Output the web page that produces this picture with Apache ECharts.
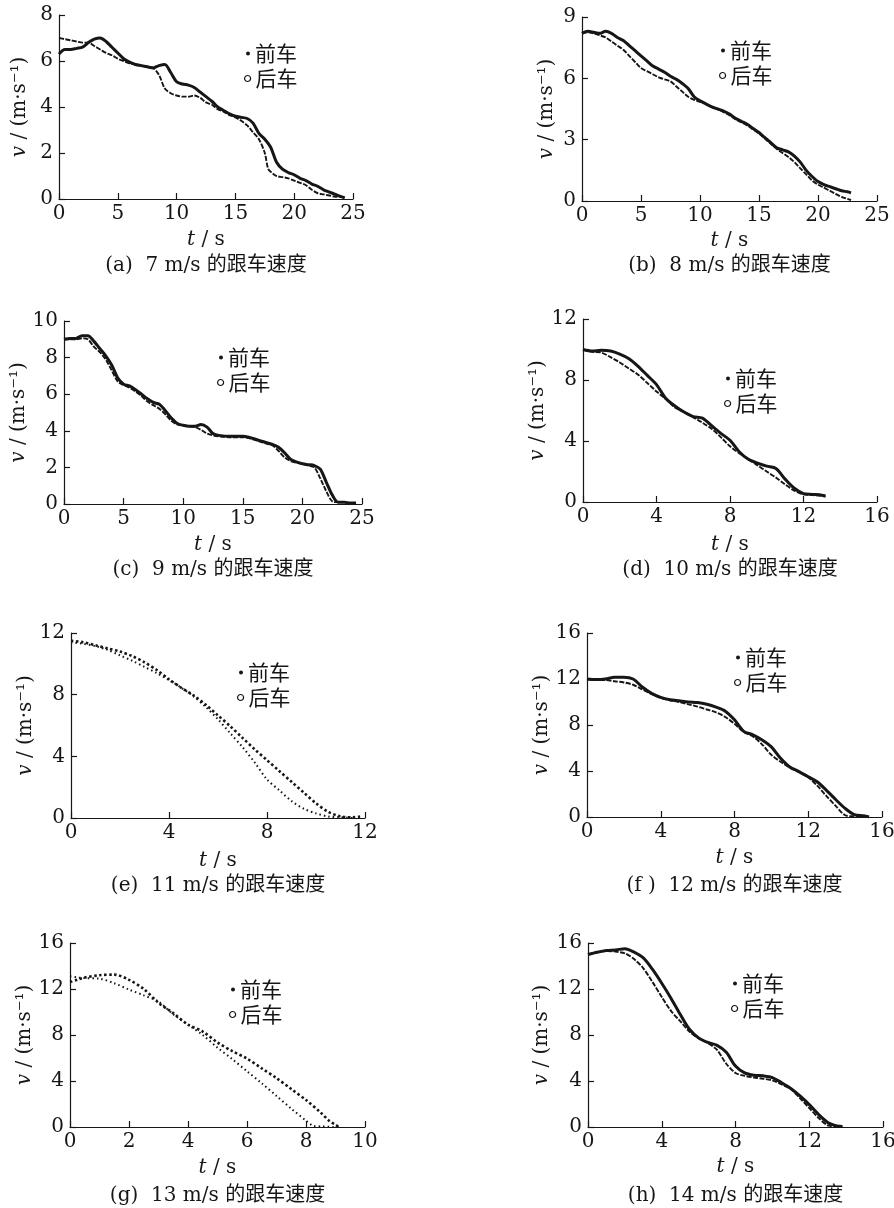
<!DOCTYPE html>
<html>
<head>
<meta charset="utf-8">
<script src="https://cdn.jsdelivr.net/npm/echarts@6/dist/echarts.min.js"></script>
<style>
html,body{margin:0;padding:0;background:#fff;}
#c{width:894px;height:1208px;}
</style>
</head>
<body>
<div id="c"></div>
<script>
// ---------------- DATA (t in s, v in m/s) ----------------
const seriesNames = ['前车', '后车'];
const captions = ['(a)  7 m/s 的跟车速度', '(b)  8 m/s 的跟车速度', '(c)  9 m/s 的跟车速度', '(d)  10 m/s 的跟车速度',
                  '(e)  11 m/s 的跟车速度', '(f )  12 m/s 的跟车速度', '(g)  13 m/s 的跟车速度', '(h)  14 m/s 的跟车速度'];
const xMax  = [25, 25, 25, 16, 12, 16, 10, 16];
const xStep = [5, 5, 5, 4, 4, 4, 2, 4];
const yMax  = [8, 9, 10, 12, 12, 16, 16, 16];
const yStep = [2, 3, 2, 4, 4, 4, 4, 4];

const aLead = [[0,7.0],[0.5,6.95],[1,6.9],[1.5,6.85],[2,6.8],[2.5,6.8],[3,6.65],[3.5,6.5],[4,6.35],[4.5,6.25],[5,6.1],[5.5,6.0],[6,5.9],[6.5,5.85],[7,5.8],[7.5,5.75],[8,5.7],[8.5,5.4],[9,4.8],[9.5,4.6],[10,4.5],[10.5,4.45],[11,4.45],[11.5,4.5],[12,4.4],[12.5,4.2],[13,4.1],[13.5,3.9],[14,3.8],[14.5,3.65],[15,3.55],[15.5,3.4],[16,3.2],[16.5,2.9],[17,2.6],[17.5,2.0],[17.8,1.3],[18.2,1.1],[18.5,1.0],[19,0.95],[19.5,0.9],[20,0.8],[20.5,0.7],[21,0.6],[21.5,0.4],[22,0.25],[22.5,0.2],[23,0.15],[23.5,0.1],[24,0.1],[24.3,0.05]];
const aFollow = [[0,6.3],[0.5,6.5],[1,6.5],[1.5,6.55],[2,6.6],[2.5,6.8],[3,6.95],[3.5,7.0],[4,6.85],[4.5,6.6],[5,6.35],[5.5,6.1],[6,5.95],[6.5,5.85],[7,5.8],[7.5,5.75],[8,5.7],[8.5,5.8],[9,5.85],[9.5,5.5],[10,5.1],[10.5,5.0],[11,4.95],[11.5,4.85],[12,4.65],[12.5,4.45],[13,4.25],[13.5,4.0],[14,3.85],[14.5,3.7],[15,3.6],[15.5,3.55],[16,3.5],[16.5,3.3],[17,2.85],[17.5,2.6],[18,2.25],[18.5,1.6],[19,1.3],[19.5,1.15],[20,1.05],[20.5,0.9],[21,0.8],[21.5,0.65],[22,0.55],[22.5,0.4],[23,0.3],[23.5,0.2],[24,0.1],[24.3,0.05]];

const bLead = [[0,8.2],[0.5,8.25],[1,8.2],[1.5,8.1],[2,8.0],[2.5,7.8],[3,7.6],[3.5,7.4],[4,7.1],[4.5,6.8],[5,6.5],[5.5,6.35],[6,6.2],[6.5,6.05],[7,5.95],[7.5,5.85],[8,5.6],[8.5,5.35],[9,5.1],[9.5,4.95],[10,4.85],[10.5,4.75],[11,4.6],[11.5,4.5],[12,4.35],[12.5,4.2],[13,4.0],[13.5,3.85],[14,3.7],[14.5,3.5],[15,3.3],[15.5,3.05],[16,2.8],[16.5,2.55],[17,2.35],[17.5,2.15],[18,1.9],[18.5,1.6],[19,1.3],[19.5,1.0],[20,0.8],[20.5,0.65],[21,0.5],[21.5,0.35],[22,0.2],[22.5,0.1],[22.8,0.05]];
const bFollow = [[0,8.2],[0.5,8.3],[1,8.25],[1.5,8.2],[2,8.3],[2.5,8.2],[3,8.0],[3.5,7.85],[4,7.6],[4.5,7.35],[5,7.1],[5.5,6.85],[6,6.6],[6.5,6.45],[7,6.3],[7.5,6.1],[8,5.95],[8.5,5.75],[9,5.5],[9.5,5.1],[10,4.9],[10.5,4.75],[11,4.6],[11.5,4.5],[12,4.4],[12.5,4.25],[13,4.05],[13.5,3.9],[14,3.75],[14.5,3.55],[15,3.35],[15.5,3.1],[16,2.85],[16.5,2.6],[17,2.5],[17.5,2.4],[18,2.2],[18.5,1.9],[19,1.5],[19.5,1.2],[20,0.95],[20.5,0.8],[21,0.7],[21.5,0.6],[22,0.5],[22.5,0.45],[22.8,0.4]];

const cLead = [[0,9.0],[0.5,9.0],[1,9.0],[1.5,9.05],[2,9.0],[2.5,8.6],[3,8.3],[3.5,7.9],[4,7.3],[4.5,6.7],[5,6.5],[5.5,6.35],[6,6.15],[6.5,5.9],[7,5.6],[7.5,5.4],[8,5.2],[8.5,4.9],[9,4.55],[9.5,4.35],[10,4.3],[10.5,4.25],[11,4.2],[11.5,4.05],[12,3.85],[12.5,3.75],[13,3.7],[14,3.65],[15,3.65],[15.5,3.6],[16,3.5],[16.5,3.4],[17,3.3],[17.5,3.2],[18,2.9],[18.5,2.55],[19,2.35],[19.5,2.25],[20,2.2],[20.5,2.1],[21,2.0],[21.5,1.4],[22,0.7],[22.5,0.15],[23,0.1],[23.5,0.1],[24,0.05],[24.5,0.05]];
const cFollow = [[0,9.0],[0.5,9.05],[1,9.05],[1.5,9.2],[2,9.2],[2.5,8.9],[3,8.5],[3.5,8.1],[4,7.6],[4.5,6.9],[5,6.55],[5.5,6.45],[6,6.25],[6.5,6.0],[7,5.75],[7.5,5.55],[8,5.45],[8.5,5.1],[9,4.7],[9.5,4.4],[10,4.3],[10.5,4.25],[11,4.25],[11.5,4.35],[12,4.2],[12.5,3.85],[13,3.75],[14,3.7],[15,3.7],[15.5,3.65],[16,3.55],[16.5,3.45],[17,3.35],[17.5,3.25],[18,3.1],[18.5,2.8],[19,2.45],[19.5,2.3],[20,2.2],[20.5,2.15],[21,2.1],[21.5,1.9],[22,1.2],[22.5,0.5],[23,0.1],[23.5,0.1],[24,0.05],[24.5,0.05]];

const dLead = [[0,10.0],[0.5,9.85],[1,9.8],[1.5,9.5],[2,9.15],[2.5,8.75],[3,8.35],[3.5,7.8],[4,7.25],[4.5,6.75],[5,6.2],[5.5,5.9],[6,5.55],[6.5,5.2],[7,4.8],[7.5,4.25],[8,3.65],[8.5,3.2],[9,2.8],[9.5,2.4],[10,2.0],[10.5,1.6],[11,1.15],[11.5,0.75],[12,0.5],[12.5,0.45],[13,0.4],[13.2,0.35]];
const dFollow = [[0,10.0],[0.5,9.9],[1,9.95],[1.5,9.9],[2,9.7],[2.5,9.4],[3,8.9],[3.5,8.3],[4,7.7],[4.5,6.8],[5,6.3],[5.5,5.9],[6,5.6],[6.5,5.5],[7,5.0],[7.5,4.5],[8,4.05],[8.5,3.3],[9,2.8],[9.5,2.55],[10,2.35],[10.5,2.2],[11,1.5],[11.5,0.9],[12,0.55],[12.5,0.5],[13,0.45],[13.2,0.4]];

const eLead = [[0,11.4],[0.5,11.3],[1,11.15],[1.5,10.9],[2,10.55],[2.5,10.2],[3,9.8],[3.5,9.4],[4,8.95],[4.5,8.45],[5,7.9],[5.5,7.2],[6,6.4],[6.5,5.5],[7,4.6],[7.5,3.6],[8,2.5],[8.5,1.8],[9,1.1],[9.5,0.6],[10,0.3],[10.5,0.1],[11,0.05],[11.5,0.0]];
const eFollow = [[0,11.5],[0.5,11.4],[1,11.2],[1.5,11.0],[2,10.8],[2.5,10.5],[3,10.1],[3.5,9.6],[4,9.0],[4.5,8.45],[5,7.95],[5.5,7.35],[6,6.65],[6.5,5.95],[7,5.2],[7.5,4.45],[8,3.75],[8.5,3.05],[9,2.35],[9.5,1.65],[10,0.95],[10.5,0.4],[11,0.1],[11.5,0.05],[11.8,0.1]];

const fLead = [[0,12.0],[0.5,11.9],[1,11.9],[1.5,11.8],[2,11.7],[2.5,11.5],[3,11.1],[3.5,10.7],[4,10.35],[4.5,10.15],[5,10.0],[5.5,9.8],[6,9.6],[6.5,9.35],[7,9.1],[7.5,8.7],[8,8.1],[8.5,7.4],[9,7.0],[9.5,6.3],[10,5.4],[10.5,4.8],[11,4.3],[11.5,3.9],[12,3.45],[12.5,2.7],[13,1.8],[13.5,0.95],[14,0.15],[14.5,0.05],[15,0.0]];
const fFollow = [[0,12.0],[0.5,11.95],[1,12.0],[1.5,12.15],[2,12.15],[2.5,12.0],[3,11.3],[3.5,10.75],[4,10.4],[4.5,10.2],[5,10.1],[5.5,10.0],[6,9.95],[6.5,9.8],[7,9.55],[7.5,9.2],[8,8.45],[8.5,7.45],[9,7.15],[9.5,6.7],[10,6.1],[10.5,5.1],[11,4.35],[11.5,3.95],[12,3.5],[12.5,3.05],[13,2.3],[13.5,1.5],[14,0.75],[14.5,0.2],[15,0.1],[15.3,0.0]];

const gLead = [[0,13.1],[0.25,13.0],[0.5,12.95],[1,12.9],[1.5,12.5],[2,11.95],[2.5,11.45],[3,10.9],[3.5,9.8],[4,8.9],[4.5,8.0],[5,6.9],[5.5,5.9],[6,4.85],[6.5,3.8],[7,2.7],[7.5,1.6],[8,0.55],[8.25,0.1],[8.5,0.05],[9,0.0]];
const gFollow = [[0,12.6],[0.25,12.8],[0.5,13.0],[1,13.2],[1.5,13.25],[2,12.8],[2.5,12.0],[3,10.8],[3.5,9.9],[4,8.9],[4.5,8.3],[5,7.35],[5.5,6.6],[6,5.95],[6.5,5.1],[7,4.25],[7.5,3.3],[8,2.35],[8.5,1.25],[8.8,0.5],[9,0.2],[9.1,0.0]];

const hLead = [[0,15.0],[0.5,15.2],[1,15.3],[1.5,15.25],[2,15.1],[2.5,14.6],[3,13.8],[3.5,12.6],[4,11.3],[4.5,10.1],[5,9.2],[5.5,8.3],[6,7.7],[6.5,7.3],[7,6.7],[7.5,5.5],[8,4.7],[8.5,4.45],[9,4.3],[9.5,4.2],[10,4.05],[10.5,3.7],[11,3.3],[11.5,2.5],[12,1.65],[12.5,0.8],[13,0.15],[13.5,0.05],[13.8,0.0]];
const hFollow = [[0,15.0],[0.5,15.2],[1,15.35],[1.5,15.4],[2,15.5],[2.5,15.2],[3,14.7],[3.5,13.7],[4,12.5],[4.5,11.2],[5,9.8],[5.5,8.5],[6,7.75],[6.5,7.35],[7,7.1],[7.5,6.5],[8,5.3],[8.5,4.7],[9,4.5],[9.5,4.45],[10,4.3],[10.5,3.85],[11,3.35],[11.5,2.7],[12,1.95],[12.5,1.1],[13,0.4],[13.5,0.1],[13.8,0.05]];

const leadData = [aLead, bLead, cLead, dLead, eLead, fLead, gLead, hLead];
const followData = [aFollow, bFollow, cFollow, dFollow, eFollow, fFollow, gFollow, hFollow];

// ---------------- LAYOUT ----------------
const gridRects = [[59,15,294,184],[582,17,295,184],[64,321,298,183],[583,319,294,183],
                   [71,633,294,185],[587,633,295,184],[70,943,295,184],[588,943,295,184]];
const yNameGap = [29,25,31,30,33,34,33,36];
const xNameGap = [31,30,31,33,33,31,31,30];
const captionY = [266,266,570,570,886,886,1196,1196];
const legendAt = [[255,43],[730,40],[228,347],[735,368],[248,662],[745,647],[240,979],[742,973]];
const sparse = [false,false,false,false,true,false,true,false];

const INK = '#161616';
const serif = "'DejaVu Serif', 'Liberation Serif', serif";
const cjk = "'DejaVu Serif', 'Noto Sans CJK SC', sans-serif";

const grid = [], xAxis = [], yAxis = [], series = [], legend = [], graphic = [];
const nameRich = { i: { fontFamily: serif, fontStyle: 'italic', fontSize: 20, color: INK } };

for (let i = 0; i < 8; i++) {
  const [l, t, w, h] = gridRects[i];
  grid.push({ left: l, top: t, width: w, height: h, containLabel: false, outerBoundsMode: 'none' });
  xAxis.push({
    gridIndex: i, type: 'value', min: 0, max: xMax[i], interval: xStep[i],
    axisLine: { show: true, onZero: false, lineStyle: { color: INK, width: 1.2 } },
    axisTick: { show: true, inside: true, length: 6, lineStyle: { color: INK, width: 1.2 } },
    axisLabel: { margin: 5, fontFamily: serif, fontSize: 20, color: INK },
    splitLine: { show: false },
    name: '{i|t} / s', nameLocation: 'middle', nameGap: xNameGap[i],
    nameTextStyle: { fontFamily: serif, fontSize: 20, color: INK, rich: nameRich }
  });
  yAxis.push({
    gridIndex: i, type: 'value', min: 0, max: yMax[i], interval: yStep[i],
    axisLine: { show: true, onZero: false, lineStyle: { color: INK, width: 1.2 } },
    axisTick: { show: true, inside: true, length: 6, lineStyle: { color: INK, width: 1.2 } },
    axisLabel: { margin: 6, fontFamily: serif, fontSize: 20, color: INK },
    splitLine: { show: false },
    name: '{i|v} / (m·s⁻¹)', nameLocation: 'middle', nameGap: yNameGap[i],
    nameTextStyle: { fontFamily: serif, fontSize: 20, color: INK, rich: nameRich }
  });
  series.push({
    type: 'line', name: seriesNames[0], xAxisIndex: i, yAxisIndex: i, data: leadData[i],
    showSymbol: false, smooth: 0.3, silent: true,
    itemStyle: { color: INK },
    lineStyle: sparse[i] ? { color: INK, width: 2, type: [1.5, 3] } : { color: INK, width: 1.9, type: [5, 1.5] }
  });
  series.push({
    type: 'line', name: seriesNames[1], xAxisIndex: i, yAxisIndex: i, data: followData[i],
    showSymbol: false, smooth: 0.3, silent: true,
    itemStyle: { color: INK },
    lineStyle: sparse[i] ? { color: INK, width: 2.6, type: [2.5, 2.5] } : { color: INK, width: 3 }
  });
  const [tx, ty] = legendAt[i];
  legend.push({
    data: [{ name: seriesNames[0], icon: 'circle', itemStyle: { color: INK } }],
    left: tx - 9, top: ty, itemWidth: 4, itemHeight: 4, padding: 0, selectedMode: false,
    textStyle: { fontFamily: "'Noto Sans CJK SC', sans-serif", fontSize: 21, color: INK }
  });
  legend.push({
    data: [{ name: seriesNames[1], icon: 'circle', itemStyle: { color: '#fff', borderColor: INK, borderWidth: 1.2 } }],
    left: tx - 11, top: ty + 25, itemWidth: 6, itemHeight: 6, padding: 0, selectedMode: false,
    textStyle: { fontFamily: "'Noto Sans CJK SC', sans-serif", fontSize: 21, color: INK }
  });
  graphic.push({
    type: 'text', x: l + w / 2, y: captionY[i], silent: true,
    style: { text: captions[i], font: "20px " + cjk, fill: INK, align: 'center', verticalAlign: 'middle' }
  });
}

const chart = echarts.init(document.getElementById('c'), null, { renderer: 'canvas' });
chart.setOption({
  backgroundColor: '#fff',
  animation: false,
  grid, xAxis, yAxis, series, legend, graphic
});
</script>
</body>
</html>
